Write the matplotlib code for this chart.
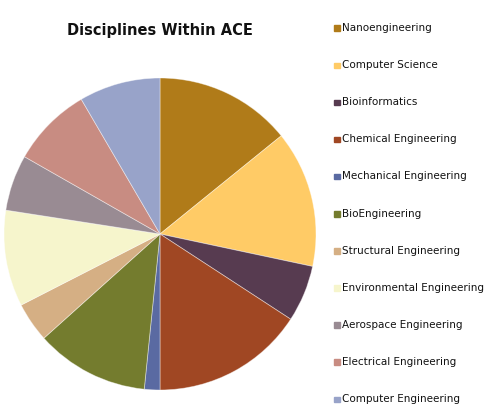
import matplotlib
matplotlib.use("Agg")
import matplotlib.pyplot as plt
from matplotlib.patches import Rectangle

# Parts du camembert (en degrés ~ effectifs relatifs)
disciplines = ["Nanoengineering", "Computer Science", "Bioinformatics",
               "Chemical Engineering", "Mechanical Engineering", "BioEngineering",
               "Structural Engineering", "Environmental Engineering",
               "Aerospace Engineering", "Electrical Engineering",
               "Computer Engineering"]
parts = [51.0, 51.0, 21.1, 56.9, 5.8, 42.3, 14.8, 35.9, 20.9, 30.0, 30.3]
couleurs = ["#B07B19", "#FFCB66", "#573B50", "#A04723", "#5A6AA2", "#747C2E",
            "#D5AF84", "#F6F5CC", "#998B93", "#C88C82", "#98A3C9"]

W, H = 504, 417
fig = plt.figure(figsize=(W / 100, H / 100), dpi=100)

# camembert : centre (160, 234), rayon ~156 px
cx, cy, r = 160, 234, 156
ax = fig.add_axes([(cx - r) / W, 1 - (cy + r) / H, 2 * r / W, 2 * r / H])
ax.pie(parts, colors=couleurs, startangle=90, counterclock=False,
       wedgeprops=dict(edgecolor=(1, 1, 1, 0.45), linewidth=0.6))
ax.set_xlim(-1, 1)
ax.set_ylim(-1, 1)
ax.set_aspect("equal")
ax.axis("off")

fig.text(160 / W, 1 - 30 / H, "Disciplines Within ACE", ha="center", va="center",
         fontsize=10.5, fontweight="bold", color="#111111")

# légende à droite
y0, pas = 28, 37.1
for i, (nom, c) in enumerate(zip(disciplines, couleurs)):
    y = y0 + i * pas
    fig.add_artist(Rectangle((334 / W, 1 - (y + 3) / H), 5.5 / W, 5.5 / H,
                             transform=fig.transFigure, color=c))
    fig.text(342 / W, 1 - y / H, nom, ha="left", va="center",
             fontsize=7.45, color="#111111")

fig.savefig("out.png", dpi=100)
